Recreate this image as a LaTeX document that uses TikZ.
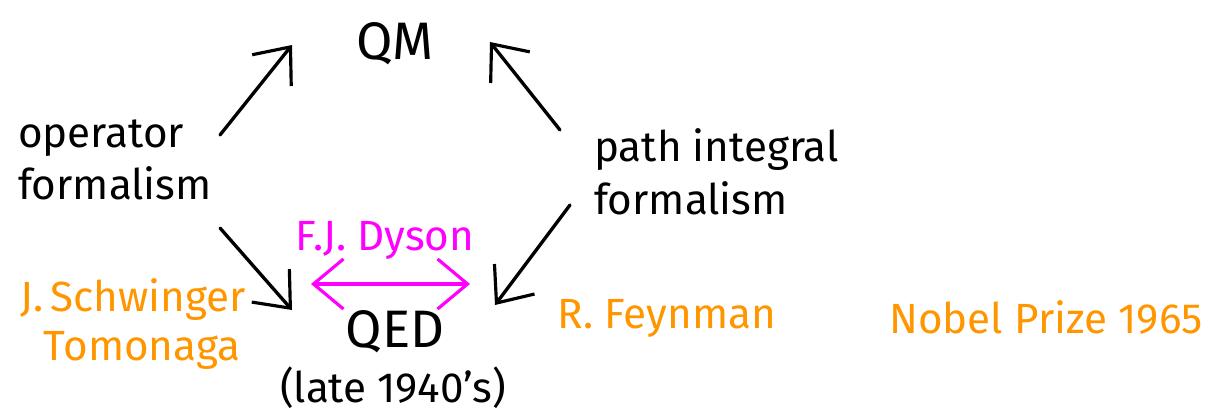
\documentclass[tikz,border=0pt]{standalone}
\usepackage{fontspec}
\setmainfont{Fira Sans}
\usepackage{tikz}
\usetikzlibrary{arrows.meta}
\definecolor{namecol}{RGB}{255,150,0}
\definecolor{dysoncol}{RGB}{255,0,255}

\begin{document}
\begin{tikzpicture}[x=0.01cm, y=-0.01cm,
  every node/.style={font=\fontsize{12}{15}\selectfont, inner sep=1pt},
  >={Straight Barb[length=3mm,width=5mm,line width=0.9pt]},
  arr/.style={->, line width=0.95pt, line cap=round},
  who/.style={text=namecol}]
\useasboundingbox (0,0) rectangle (1208,418);
% the two formalisms
\node (qm) at (395,44) {\fontsize{15}{17}\selectfont QM};
\node (qed) at (395,332) {\fontsize{15}{17}\selectfont QED};
\node (late) at (393,388) {(late 1940's)};
\node[align=left, anchor=west] (op) at (14,160) {operator\\formalism};
\node[align=left, anchor=west] (pi) at (590,172) {path integral\\formalism};
% arrow ends
\coordinate (opUp) at (220,135);
\coordinate (opDown) at (220,228);
\coordinate (piUp) at (560,130);
\coordinate (piDown) at (570,205);
\coordinate (qmL) at (292,45);
\coordinate (qmR) at (490,42);
\coordinate (qedL) at (292,310);
\coordinate (qedR) at (495,305);
\draw[arr] (opUp) -- (qmL);
\draw[arr] (opDown) -- (qedL);
\draw[arr] (piUp) -- (qmR);
\draw[arr] (piDown) -- (qedR);
% Dyson
\node[text=dysoncol] (dyson) at (385,240) {F.J. Dyson};
\coordinate (dysL) at (311,284);
\coordinate (dysR) at (470,284);
\draw[arr, <->, dysoncol, line width=1.3pt] (dysL) -- (dysR);
% names
\node[who] (schw) at (133,300) {J.\,Schwinger};
\node[who] (tomo) at (142,350) {Tomonaga};
\node[who] (feyn) at (667,318) {R. Feynman};
\node[who] (nobel) at (1046,318) {Nobel Prize 1965};
\end{tikzpicture}
\end{document}
